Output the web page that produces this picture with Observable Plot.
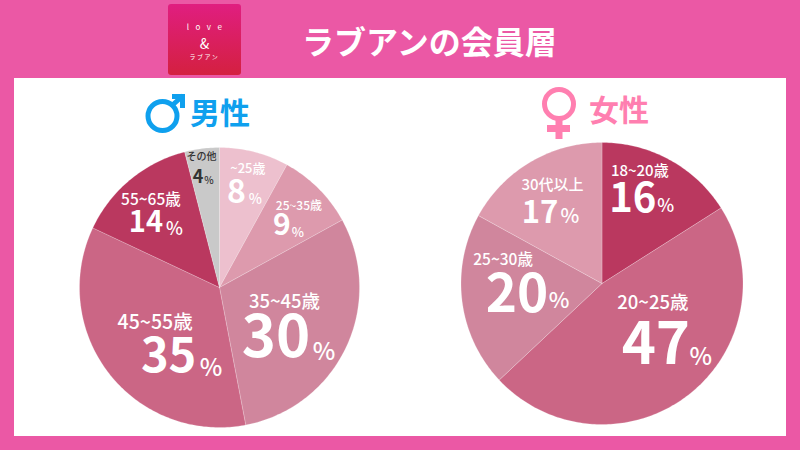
<!DOCTYPE html>
<html lang="ja">
<head>
<meta charset="utf-8">
<script src="https://cdn.jsdelivr.net/npm/d3@7"></script>
<script src="https://cdn.jsdelivr.net/npm/@observablehq/plot@0.6"></script>
<style>
  html, body { margin: 0; padding: 0; width: 800px; height: 450px; overflow: hidden; background: #EB58A5; font-family: "Noto Sans CJK JP", "Noto Sans", sans-serif; }
  .abs { position: absolute; }
  #panel { left: 14px; top: 78px; width: 772px; height: 358px; background: #fff; }
  #logo { left: 168px; top: 4px; width: 73px; height: 71px; border-radius: 3px; background: linear-gradient(#E01E80, #D42040); color: #fff; text-align: center; }
  #logo div { position: absolute; left: 0; right: 0; white-space: nowrap; }
  #title { left: 302px; top: 17px; font-size: 32px; line-height: 46px; font-weight: 700; color: #fff; white-space: nowrap; }
  .gender { font-size: 30px; line-height: 40px; font-weight: 700; white-space: nowrap; }
  #chart { left: 0; top: 0; }
  #chart svg { background: transparent; display: block; }
</style>
</head>
<body>
<div id="panel" class="abs"></div>
<div id="logo" class="abs">
  <div style="top:18px;font-size:8px;line-height:10px;letter-spacing:6.5px;padding-left:6px">love</div>
  <div style="top:31px;font-size:14px;line-height:16px">&amp;</div>
  <div style="top:49px;font-size:6px;line-height:8px;letter-spacing:1.5px">ラブアン</div>
</div>
<div id="title" class="abs">ラブアンの会員層</div>
<svg class="abs" style="left:0;top:0;z-index:2" width="800" height="450" fill="none">
  <g stroke="#0FA0EE" stroke-width="5">
    <circle cx="162.5" cy="116" r="14.5"/>
    <path d="M172 105.5L183 95.5"/>
    <path d="M172 96.5H182.5V108"/>
  </g>
  <g stroke="#FF7FB0">
    <circle cx="559" cy="104" r="14.5" stroke-width="5"/>
    <path d="M559 120V139" stroke-width="7"/>
    <path d="M547 128.5H570" stroke-width="7"/>
  </g>
</svg>
<div class="abs gender" style="left:190px;top:91px;color:#0FA0EE">男性</div>
<div class="abs gender" style="left:589px;top:88px;color:#FF7FB0">女性</div>
<div id="chart" class="abs"></div>
<script>
// Data
const maleLabels = ["~25歳", "25~35歳", "35~45歳", "45~55歳", "55~65歳", "その他"];
const maleValues = [8, 9, 30, 35, 14, 4];
const femaleLabels = ["18~20歳", "20~25歳", "25~30歳", "30代以上"];
const femaleValues = [16, 47, 20, 17];

// Styling and layout
const maleColors = ["#EDC0CE", "#DD9AAD", "#D0869D", "#CB6685", "#BA385F", "#C9C9C9"];
const femaleColors = ["#BA385F", "#CB6685", "#D0869D", "#DD9AAD"];
const malePie = {cx: 219, cy: 287, r: 140};
const femalePie = {cx: 601.5, cy: 283, r: 141};
// per slice: offsets from the slice centroid and font size for label, number, percent
const maleText = [
  {l: [7.5, -37, 13], n: [-4, -13, 32], p: [15, -7, 14]},
  {l: [20, -22, 12], n: [3, -3, 30], p: [19, 5, 13]},
  {l: [-11, -21, 18.5], n: [-19.5, 15, 58], p: [28.5, 29, 24]},
  {l: [2, -16, 19.5], n: [15.5, 17.5, 47], p: [58, 29.5, 24]},
  {l: [-15, -23, 15.5], n: [-20, 0, 29], p: [8.5, 6, 18]},
  {l: [-7.5, -47, 10], n: [-11, -27, 18], p: [0, -23, 10]}
];
const femaleText = [
  {l: [-3, -38, 15], n: [-10, -10, 40], p: [23, -3, 18]},
  {l: [-1, -47, 18.5], n: [2, -5, 58], p: [47, 7, 24]},
  {l: [-15, -34, 15.5], n: [-1, 1, 53], p: [41, 7, 22]},
  {l: [-6.5, -25, 15], n: [-19, 2, 31], p: [11, 6, 20]}
];

function buildPie(id, labels, values, colors, text, g) {
  const total = d3.sum(values);
  const outline = [];
  const texts = [];
  let cum = 0;
  values.forEach((v, i) => {
    const a0 = cum / total * 2 * Math.PI;
    cum += v;
    const a1 = cum / total * 2 * Math.PI;
    const mid = (a0 + a1) / 2;
    const steps = Math.max(4, Math.ceil((a1 - a0) * 60));
    const key = id + i;
    outline.push({key, color: colors[i], x: g.cx, y: g.cy});
    for (let s = 0; s <= steps; ++s) {
      const a = a0 + (a1 - a0) * s / steps;
      outline.push({key, color: colors[i], x: g.cx + g.r * Math.sin(a), y: g.cy - g.r * Math.cos(a)});
    }
    outline.push({key, color: colors[i], x: g.cx, y: g.cy});
    const ax = g.cx + 0.6 * g.r * Math.sin(mid);
    const ay = g.cy - 0.6 * g.r * Math.cos(mid);
    const ink = labels[i] === "その他" ? "#333333" : "#ffffff";
    const t = text[i];
    texts.push({text: labels[i], x: ax + t.l[0], y: ay + t.l[1], size: t.l[2], ink, weight: 500});
    texts.push({text: String(v), x: ax + t.n[0], y: ay + t.n[1], size: t.n[2], ink, weight: 700});
    texts.push({text: "%", x: ax + t.p[0], y: ay + t.p[1], size: t.p[2], ink, weight: 500});
  });
  return {outline, texts};
}

const m = buildPie("m", maleLabels, maleValues, maleColors, maleText, malePie);
const f = buildPie("f", femaleLabels, femaleValues, femaleColors, femaleText, femalePie);

const weights = [500, 700];
const textMarks = (rows) => weights.map(w => Plot.text(rows.filter(d => d.weight === w), {
  x: "x", y: "y", text: "text", fontSize: "size", fill: "ink",
  fontWeight: w, fontFamily: '"Noto Sans CJK JP", sans-serif',
  textAnchor: "middle", lineAnchor: "middle"
}));
const sliceMark = (rows) => Plot.line(rows, {
  x: "x", y: "y", z: "key", fill: "color",
  stroke: "#ffffff", strokeOpacity: 0.35, strokeWidth: 0.6, curve: "linear"
});

const plot = Plot.plot({
  width: 800, height: 450, margin: 0,
  x: {domain: [0, 800], range: [0, 800], axis: null},
  y: {domain: [0, 450], range: [0, 450], axis: null},
  color: {type: "identity"},
  style: {background: "transparent"},
  marks: [
    sliceMark(m.outline), sliceMark(f.outline),
    ...textMarks(m.texts), ...textMarks(f.texts)
  ]
});
document.getElementById("chart").appendChild(plot);
</script>
</body>
</html>
